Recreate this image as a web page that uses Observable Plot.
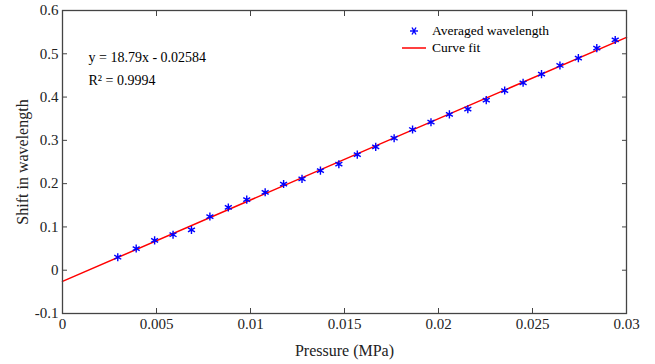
<!DOCTYPE html>
<html>
<head>
<meta charset="utf-8">
<script src="https://cdn.jsdelivr.net/npm/d3@7"></script>
<script src="https://cdn.jsdelivr.net/npm/@observablehq/plot@0.6"></script>
<style>
  body { margin: 0; background: #fff; }
  #wrap { position: relative; width: 655px; height: 364px; font-family: 'Liberation Serif'; }
  #legend { position: absolute; left: 402px; top: 22px; font-size: 13.5px; color: #000; line-height: 17px; font-family: 'Liberation Serif'; }
  #legend div { display: flex; align-items: center; height: 17px; }
  #legend svg { margin-right: 6px; }
</style>
</head>
<body>
<div id="wrap">
  <div id="chart"></div>
  <div id="legend">
    <div><svg width="24" height="14"><g stroke="blue" stroke-width="1.4" transform="translate(12,7)"><line x1="-4" x2="4" y1="0" y2="0"/><line x1="-2" x2="2" y1="-3.5" y2="3.5"/><line x1="-2" x2="2" y1="3.5" y2="-3.5"/></g></svg>Averaged wavelength</div>
    <div><svg width="24" height="14"><line x1="0" x2="24" y1="7" y2="7" stroke="red" stroke-width="1.5"/></svg>Curve fit</div>
  </div>
</div>
<script>
const pressure = [0.00294,0.00392,0.00490,0.00588,0.00686,0.00784,0.00882,0.00980,0.01078,0.01176,0.01274,0.01372,0.01470,0.01568,0.01666,0.01764,0.01862,0.01960,0.02058,0.02156,0.02254,0.02352,0.02450,0.02548,0.02646,0.02744,0.02842,0.02940];
const shift = [0.030,0.050,0.069,0.082,0.093,0.124,0.145,0.163,0.180,0.199,0.211,0.230,0.245,0.267,0.285,0.305,0.325,0.342,0.360,0.372,0.393,0.415,0.433,0.453,0.473,0.490,0.513,0.532];
const slope = 18.79;
const intercept = -0.02584;
const fitX = [0, 0.03];
const xTicks = [0, 0.005, 0.01, 0.015, 0.02, 0.025, 0.03];
const yTicks = [-0.1, 0, 0.1, 0.2, 0.3, 0.4, 0.5, 0.6];
const eqLines = ["y = 18.79x - 0.02584", "R² = 0.9994"];

const points = pressure.map((p, i) => ({p, s: shift[i]}));
const fit = fitX.map(p => ({p, s: slope * p + intercept}));
const fmt = d => d === 0 ? "0" : String(d);
const FONT = "Liberation Serif";

const axisStyle = {tickSize: -5, stroke: "#444", fontSize: 15, fill: "#222"};

const chart = Plot.plot({
  width: 655, height: 364,
  marginLeft: 62, marginRight: 29, marginTop: 10, marginBottom: 51,
  style: {fontFamily: FONT, fontSize: "15px", color: "#222", background: "#fff"},
  x: {domain: [0, 0.03]},
  y: {domain: [-0.1, 0.6]},
  marks: [
    Plot.line(fit, {x: "p", y: "s", stroke: "red", strokeWidth: 1.5}),
    Plot.dot(points, {x: "p", y: "s", symbol: "asterisk", r: 3.8, stroke: "blue", strokeWidth: 1.4}),
    Plot.axisX(xTicks, {...axisStyle, anchor: "bottom", tickFormat: fmt, tickPadding: 10, label: "Pressure (MPa)", labelAnchor: "center", labelArrow: "none", labelOffset: 42}),
    Plot.axisX(xTicks, {...axisStyle, anchor: "top", text: null, label: null}),
    Plot.axisY(yTicks, {...axisStyle, anchor: "left", tickFormat: fmt, tickPadding: 9, label: "Shift in wavelength", labelAnchor: "center", labelArrow: "none", labelOffset: 46}),
    Plot.axisY(yTicks, {...axisStyle, anchor: "right", text: null, label: null}),
    Plot.frame({stroke: "#444", strokeWidth: 1.3}),
    Plot.text([eqLines.join("\n")], {frameAnchor: "top-left", dx: 26, dy: 36, textAnchor: "start", lineAnchor: "top", fontSize: 14, lineHeight: 1.6, fill: "#000"})
  ]
});
chart.setAttribute("font-family", FONT);
chart.querySelectorAll("text").forEach(t => { t.style.fontFamily = FONT; });
chart.querySelectorAll("[aria-label='x-axis label'] text, [aria-label='y-axis label'] text").forEach(t => { t.setAttribute("font-size", 16); t.style.fontSize = "16px"; });
document.getElementById("chart").append(chart);
</script>
</body>
</html>
